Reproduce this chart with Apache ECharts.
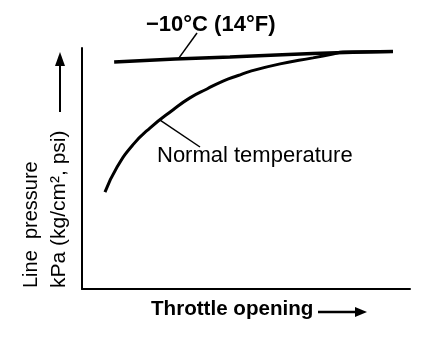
<!DOCTYPE html>
<html lang="en">
<head>
  <meta charset="UTF-8">
  <title>Line pressure vs throttle opening</title>
  <style>
    html, body { margin: 0; padding: 0; background: #fff; }
    #chart { width: 448px; height: 342px; }
  </style>
</head>
<body>
  <div id="chart"></div>
  <script src="https://cdn.jsdelivr.net/npm/echarts@6/dist/echarts.min.js"></script>
  <script>
    // throttle opening (% of axis) / line pressure (% of axis)
    var coldX = [9.8, 28.4, 45.1, 70.4, 94.8];
    var coldY = [94.2, 95.4, 96.3, 97.7, 98.5];
    var normalX = [7.0, 10.7, 15.5, 20.7, 27.7, 32.9, 38.1, 43.0, 47.6, 51.2, 60.4, 70.4, 76.5, 79.6, 94.8];
    var normalY = [40.2, 50.6, 59.8, 66.8, 74.3, 79.3, 83.0, 86.3, 88.6, 90.3, 93.4, 95.9, 97.5, 98.3, 98.5];
    var seriesNames = ['−10°C (14°F)', 'Normal temperature'];

    function pairs(xs, ys) {
      return xs.map(function (x, i) { return [x, ys[i]]; });
    }

    var font = 'Liberation Sans, Arial, sans-serif';
    var chart = echarts.init(document.getElementById('chart'));

    chart.setOption({
      animation: false,
      backgroundColor: '#fff',
      grid: { left: 82, right: 38, top: 48, bottom: 53 },
      xAxis: {
        type: 'value', min: 0, max: 100,
        axisLine: { show: true, lineStyle: { color: '#000', width: 2 } },
        axisTick: { show: false }, axisLabel: { show: false }, splitLine: { show: false }
      },
      yAxis: {
        type: 'value', min: 0, max: 100,
        axisLine: { show: true, lineStyle: { color: '#000', width: 2 } },
        axisTick: { show: false }, axisLabel: { show: false }, splitLine: { show: false }
      },
      series: [
        {
          name: seriesNames[0], type: 'line', smooth: true, symbol: 'none',
          lineStyle: { color: '#000', width: 3.5 },
          data: pairs(coldX, coldY)
        },
        {
          name: seriesNames[1], type: 'line', smooth: true, symbol: 'none',
          lineStyle: { color: '#000', width: 3 },
          data: pairs(normalX, normalY)
        }
      ]
    });

    // leader lines start on the curves, so take their ends from the scales
    var coldAnchor = chart.convertToPixel({ seriesIndex: 0 }, [29.3, 95.4]);
    var normalAnchor = chart.convertToPixel({ seriesIndex: 1 }, [23.8, 70.1]);

    function label(text, x, y, size, bold, rot) {
      return {
        type: 'text', x: x, y: y, rotation: rot || 0,
        style: {
          text: text, font: (bold ? 'bold ' : '') + size + 'px ' + font, fill: '#000',
          textAlign: 'left', textVerticalAlign: 'middle'
        }
      };
    }

    chart.setOption({
      graphic: [
        label(seriesNames[0], 146, 25, 22, true),
        { type: 'line', shape: { x1: coldAnchor[0], y1: coldAnchor[1], x2: 197, y2: 33 },
          style: { stroke: '#000', lineWidth: 1.5 } },
        label(seriesNames[1], 157, 156, 22, false),
        { type: 'line', shape: { x1: normalAnchor[0], y1: normalAnchor[1], x2: 200, y2: 147 },
          style: { stroke: '#000', lineWidth: 1.5 } },
        // x axis name + arrow
        label('Throttle opening', 151, 309, 20.6, true),
        { type: 'line', shape: { x1: 318, y1: 312, x2: 358, y2: 312 },
          style: { stroke: '#000', lineWidth: 2.5 } },
        { type: 'polygon', shape: { points: [[355, 307], [367, 312], [355, 317]] },
          style: { fill: '#000' } },
        // y axis name + arrow
        label('Line  pressure', 31, 288, 20, false, Math.PI / 2),
        label('kPa (kg/cm², psi)', 59, 288, 21, false, Math.PI / 2),
        { type: 'line', shape: { x1: 60, y1: 112, x2: 60, y2: 62 },
          style: { stroke: '#000', lineWidth: 2 } },
        { type: 'polygon', shape: { points: [[55, 66], [60, 52], [65, 66]] },
          style: { fill: '#000' } }
      ]
    });
  </script>
</body>
</html>
